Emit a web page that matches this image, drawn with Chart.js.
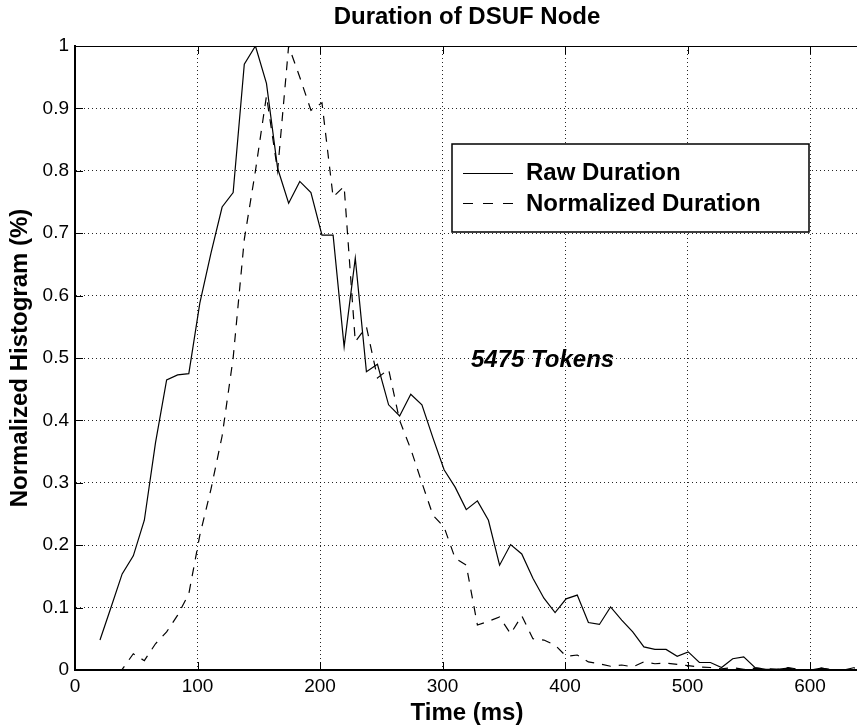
<!DOCTYPE html>
<html>
<head>
<meta charset="utf-8">
<script src="https://cdn.jsdelivr.net/npm/chart.js@4.4.1/dist/chart.umd.min.js"></script>
<style>
  html, body { margin: 0; padding: 0; background: #fff; overflow: hidden; }
  #wrap { width: 859px; height: 727px; }
</style>
</head>
<body>
<div id="wrap"><canvas id="durationChart"></canvas></div>
<script>
// bin centres (ms)
const timeMs = [
  20.4, 29.5, 38.5, 47.6, 56.6, 65.7, 74.8, 83.8, 92.9, 101.9,
  111.0, 120.1, 129.1, 138.2, 147.3, 156.3, 165.4, 174.4, 183.5, 192.6,
  201.6, 210.7, 219.7, 228.8, 237.9, 246.9, 256.0, 265.0, 274.1, 283.2,
  292.2, 301.3, 310.3, 319.4, 328.5, 337.5, 346.6, 355.6, 364.7, 373.8,
  382.8, 391.9, 400.9, 410.0, 419.1, 428.1, 437.2, 446.3, 455.3, 464.4,
  473.4, 482.5, 491.6, 500.6, 509.7, 518.7, 527.8, 536.9, 545.9, 555.0,
  564.0, 573.1, 582.2, 591.2, 600.3, 609.3, 618.4, 627.5, 636.5
];
const rawDuration = [
  0.048, 0.101, 0.154, 0.183, 0.240, 0.364, 0.465, 0.473, 0.475, 0.588,
  0.668, 0.742, 0.765, 0.971, 1.0, 0.94, 0.804, 0.748, 0.783, 0.765,
  0.697, 0.697, 0.518, 0.660, 0.478, 0.490, 0.425, 0.407, 0.442, 0.425,
  0.372, 0.321, 0.293, 0.257, 0.271, 0.240, 0.168, 0.201, 0.186, 0.147,
  0.115, 0.092, 0.114, 0.120, 0.076, 0.073, 0.101, 0.080, 0.061, 0.037,
  0.033, 0.033, 0.022, 0.029, 0.012, 0.012, 0.004, 0.018, 0.021, 0.004,
  0.001, 0.001, 0.003, 0.0, 0.0, 0.003, 0.0, 0.0, 0.004
];
const normalizedDuration = [
  0.0, 0.0, 0.001, 0.026, 0.015, 0.042, 0.061, 0.088, 0.122, 0.216,
  0.29, 0.375, 0.50, 0.69, 0.80, 0.92, 0.80, 1.0, 0.95, 0.897,
  0.909, 0.758, 0.775, 0.526, 0.55, 0.468, 0.482, 0.40, 0.354, 0.30,
  0.248, 0.229, 0.179, 0.168, 0.072, 0.078, 0.085, 0.058, 0.087, 0.050,
  0.048, 0.040, 0.022, 0.024, 0.013, 0.010, 0.006, 0.008, 0.005, 0.013,
  0.010, 0.011, 0.009, 0.007, 0.005, 0.004, 0.002, 0.004, 0.001, 0.003,
  0.002, 0.001, 0.004, 0.001, 0.0, 0.003, 0.0, 0.0, 0.002
];
const xTicks = [0, 100, 200, 300, 400, 500, 600];
const yTicks = [0, 0.1, 0.2, 0.3, 0.4, 0.5, 0.6, 0.7, 0.8, 0.9, 1];

const FONT = '"Liberation Sans", Arial, Helvetica, sans-serif';

// title, axis labels, legend box, annotation, inward ticks
const decorations = {
  id: 'decorations',
  afterDatasetsDraw(chart) {
    const { ctx, chartArea: a, scales: { x, y } } = chart;
    ctx.save();
    ctx.strokeStyle = '#000';
    ctx.lineWidth = 1;
    ctx.setLineDash([]);
    ctx.beginPath();
    ctx.moveTo(a.left, a.top + 0.5);
    ctx.lineTo(a.right, a.top + 0.5);
    xTicks.forEach(v => {
      const px = Math.round(x.getPixelForValue(v)) + 0.5;
      ctx.moveTo(px, a.bottom); ctx.lineTo(px, a.bottom - 8);
      ctx.moveTo(px, a.top); ctx.lineTo(px, a.top + 8);
    });
    yTicks.forEach(v => {
      const py = Math.round(y.getPixelForValue(v)) + 0.5;
      ctx.moveTo(a.left, py); ctx.lineTo(a.left + 8, py);
    });
    ctx.stroke();

    // legend
    const lx = 452, ly = 144, lw = 357, lh = 88;
    ctx.fillStyle = '#fff';
    ctx.fillRect(lx, ly, lw, lh);
    ctx.lineWidth = 1.5;
    ctx.strokeRect(lx, ly, lw, lh);
    ctx.lineWidth = 1;
    ctx.beginPath();
    ctx.moveTo(463, 173.5); ctx.lineTo(513, 173.5);
    ctx.stroke();
    ctx.setLineDash([10, 10]);
    ctx.beginPath();
    ctx.moveTo(463, 203.5); ctx.lineTo(513, 203.5);
    ctx.stroke();
    ctx.setLineDash([]);

    ctx.fillStyle = '#000';
    ctx.textBaseline = 'middle';
    ctx.textAlign = 'left';
    ctx.font = 'bold 24px ' + FONT;
    ctx.fillText('Raw Duration', 526, 173);
    ctx.fillText('Normalized Duration', 526, 204);

    ctx.font = 'italic bold 24px ' + FONT;
    ctx.fillText('5475 Tokens', 471, 360);

    ctx.textAlign = 'center';
    ctx.font = 'bold 24px ' + FONT;
    ctx.fillText('Duration of DSUF Node', (a.left + a.right) / 2, 17);
    ctx.fillText('Time (ms)', (a.left + a.right) / 2, 713);
    ctx.translate(20, (a.top + a.bottom) / 2);
    ctx.rotate(-Math.PI / 2);
    ctx.fillText('Normalized Histogram (%)', 0, 0);
    ctx.restore();
  }
};

const ctx = document.getElementById('durationChart').getContext('2d');
new Chart(ctx, {
  type: 'line',
  data: {
    datasets: [
      {
        label: 'Raw Duration',
        data: timeMs.map((t, i) => ({ x: t, y: rawDuration[i] })),
        borderColor: '#000',
        borderWidth: 1.2,
        pointRadius: 0,
        tension: 0,
        fill: false
      },
      {
        label: 'Normalized Duration',
        data: timeMs.map((t, i) => ({ x: t, y: normalizedDuration[i] })),
        borderColor: '#000',
        borderWidth: 1.2,
        borderDash: [9, 8],
        pointRadius: 0,
        tension: 0,
        fill: false
      }
    ]
  },
  options: {
    responsive: true,
    maintainAspectRatio: false,
    animation: false,
    layout: { padding: { top: 46, right: 0, bottom: 0, left: 0 } },
    plugins: {
      legend: { display: false },
      title: { display: false },
      tooltip: { enabled: false }
    },
    scales: {
      x: {
        type: 'linear',
        min: 0,
        max: 640,
        afterBuildTicks: scale => { scale.ticks = xTicks.map(v => ({ value: v })); },
        afterFit: scale => { scale.height = 57; },
        ticks: {
          includeBounds: false,
          autoSkip: false,
          maxRotation: 0,
          padding: 5,
          color: '#000',
          font: { family: FONT, size: 19 },
          callback: v => String(v)
        },
        grid: { color: 'rgba(0,0,0,0.85)', lineWidth: 1, drawTicks: false },
        border: { display: true, color: '#000', width: 2, dash: [1, 3] }
      },
      y: {
        type: 'linear',
        min: 0,
        max: 1,
        afterBuildTicks: scale => { scale.ticks = yTicks.map(v => ({ value: v })); },
        afterFit: scale => { scale.width = 75; },
        ticks: {
          autoSkip: false,
          padding: 6,
          color: '#000',
          font: { family: FONT, size: 19 },
          callback: v => String(v)
        },
        grid: { color: 'rgba(0,0,0,0.85)', lineWidth: 1, drawTicks: false },
        border: { display: true, color: '#000', width: 2, dash: [1, 3] }
      }
    }
  },
  plugins: [decorations]
});
</script>
</body>
</html>
